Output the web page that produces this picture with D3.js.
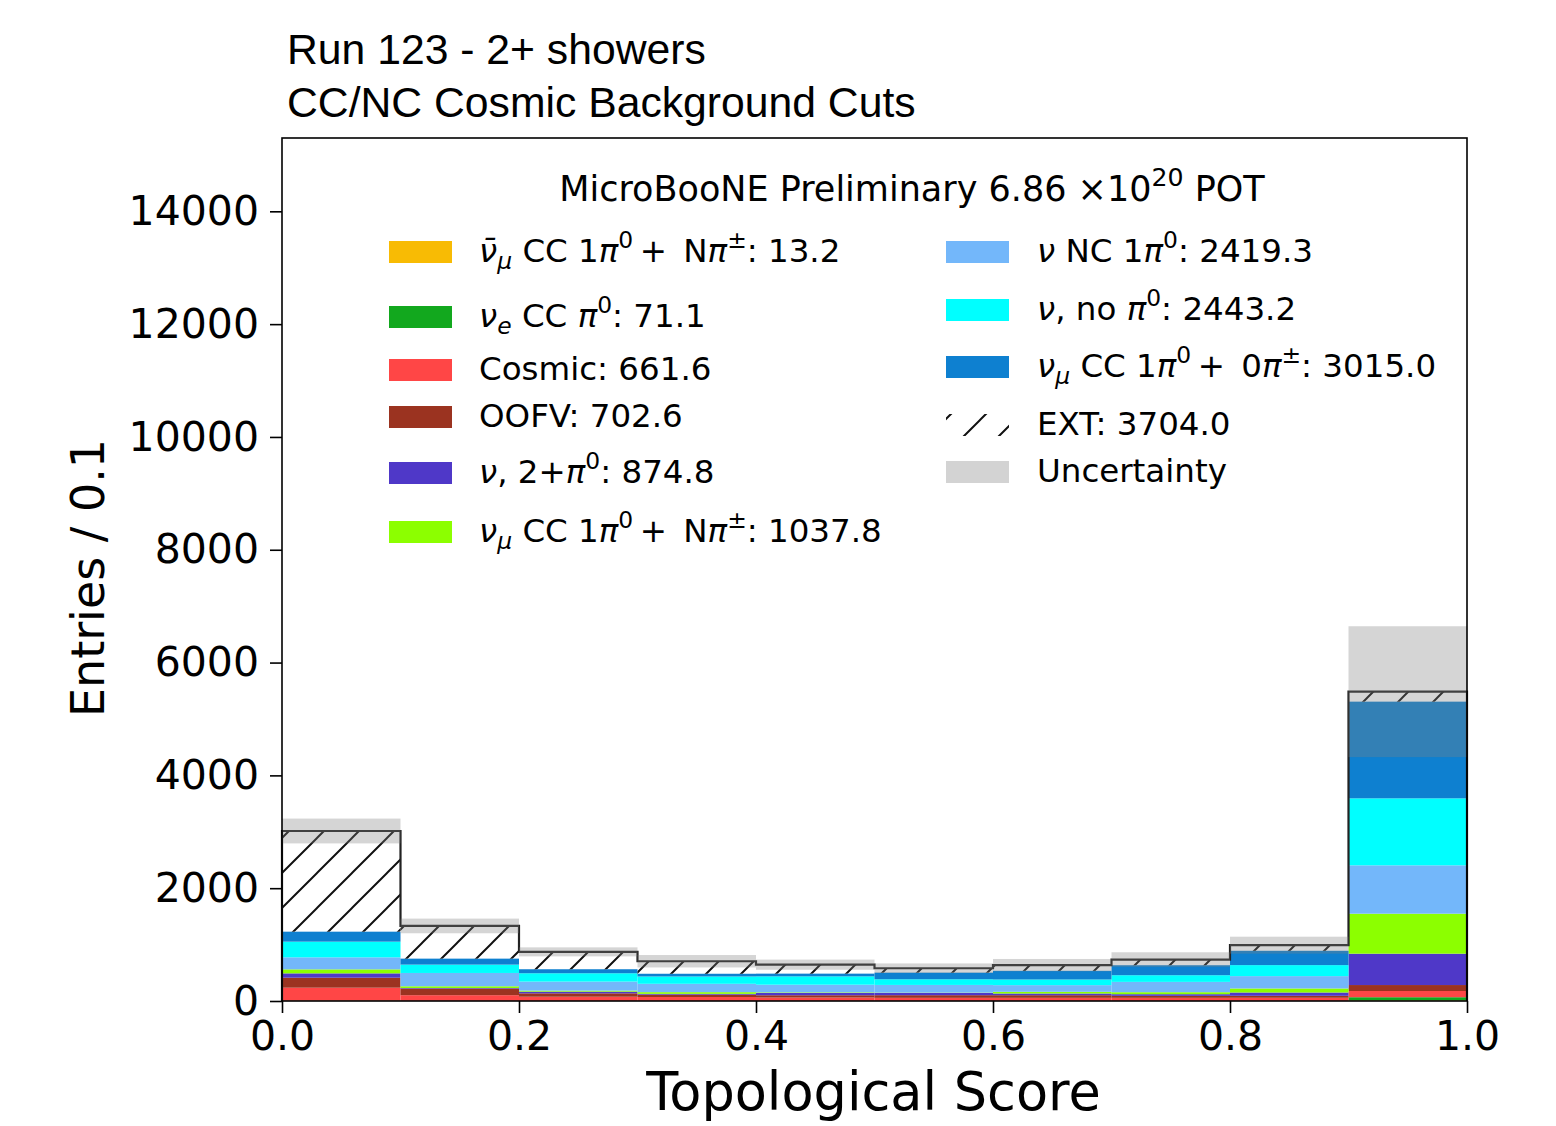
<!DOCTYPE html>
<html>
<head>
<meta charset="utf-8">
<script src="https://cdnjs.cloudflare.com/ajax/libs/d3/7.8.5/d3.min.js"></script>
<style>
    body { margin: 0; background: #fff; }
    text { font-family: "DejaVu Sans", sans-serif; fill: #000; }
</style>
</head>
<body>
<svg id="chart" width="1556" height="1126"></svg>
<script>
// bin edges of the topological score histogram
const binEdges = [0.0, 0.1, 0.2, 0.3, 0.4, 0.5, 0.6, 0.7, 0.8, 0.9, 1.0];

// stacked MC categories, bottom to top, one value per bin
const numubarCC = [1, 1, 0, 0, 0, 0, 0, 0, 1, 10];
const nueCC     = [5, 2, 1, 1, 1, 1, 1, 1, 1, 57];
const cosmic    = [230, 100, 75, 70, 60, 55, 55, 55, 55, 110];
const oofv      = [177, 118, 60, 41, 41, 47, 47, 35, 35, 106];
const nu2pi0    = [77, 10, 30, 15, 41, 41, 30, 30, 59, 556];
const numuNpi   = [71, 30, 18, 30, 10, 5, 30, 35, 71, 709];
const ncPi0     = [213, 236, 160, 148, 136, 136, 118, 183, 219, 857];
const noPi0     = [278, 148, 148, 130, 148, 100, 100, 118, 195, 1188];
const numu0pi   = [177, 106, 71, 48, 48, 118, 154, 177, 254, 1714];

// beam-off (hatched) on top of the stack, and the uncertainty half-width
const ext         = [1785, 580, 308, 222, 159, 78, 100, 100, 100, 177];
const uncertainty = [220, 130, 80, 110, 90, 85, 110, 130, 150, 1160];

const yTicks = [0, 2000, 4000, 6000, 8000, 10000, 12000, 14000];
const xTicks = [0.0, 0.2, 0.4, 0.6, 0.8, 1.0];

const titleLines = ['Run 123 - 2+ showers', 'CC/NC Cosmic Background Cuts'];

// legend labels: [text, kind]  kind: '' upright, 'i' italic, 'isub' italic subscript, 'sup' superscript
const labelNumubar = [['ν\u0304', 'i'], ['μ', 'isub'], [' CC 1', ''], ['π', 'i'], ['0', 'sup'], ['\u2009+\u2002N', ''], ['π', 'i'], ['±', 'sup'], [': 13.2', '']];
const labelNue     = [['ν', 'i'], ['e', 'isub'], [' CC ', ''], ['π', 'i'], ['0', 'sup'], [': 71.1', '']];
const labelCosmic  = [['Cosmic: 661.6', '']];
const labelOofv    = [['OOFV: 702.6', '']];
const label2pi0    = [['ν', 'i'], [', 2+', ''], ['π', 'i'], ['0', 'sup'], [': 874.8', '']];
const labelNpi     = [['ν', 'i'], ['μ', 'isub'], [' CC 1', ''], ['π', 'i'], ['0', 'sup'], ['\u2009+\u2002N', ''], ['π', 'i'], ['±', 'sup'], [': 1037.8', '']];
const labelNc      = [['ν', 'i'], [' NC 1', ''], ['π', 'i'], ['0', 'sup'], [': 2419.3', '']];
const labelNoPi0   = [['ν', 'i'], [', no ', ''], ['π', 'i'], ['0', 'sup'], [': 2443.2', '']];
const label0pi     = [['ν', 'i'], ['μ', 'isub'], [' CC 1', ''], ['π', 'i'], ['0', 'sup'], ['\u2009+\u20020', ''], ['π', 'i'], ['±', 'sup'], [': 3015.0', '']];
const labelExt     = [['EXT: 3704.0', '']];
const labelUnc     = [['Uncertainty', '']];

const keys = ['numubarCC', 'nueCC', 'cosmic', 'oofv', 'nu2pi0', 'numuNpi', 'ncPi0', 'noPi0', 'numu0pi'];
const colours = ['#f8bb04', '#12a81e', '#ff4646', '#9b3320', '#4f38c8', '#8cff00', '#73b7fa', '#00ffff', '#0e80d0'];
const series = [numubarCC, nueCC, cosmic, oofv, nu2pi0, numuNpi, ncPi0, noPi0, numu0pi];

// viewport
const margin = {top: 138, right: 89, bottom: 125, left: 282},
    width = 1556 - margin.left - margin.right,
    height = 1126 - margin.top - margin.bottom;

const svg = d3.select('#chart');

const x = d3.scaleLinear().domain([0, 1]).range([0, width]);
const y = d3.scaleLinear().domain([0, 15300]).range([height, 0]);

// hatch pattern for EXT
const defs = svg.append('defs');
const hatch = defs.append('pattern')
    .attr('id', 'hatch')
    .attr('patternUnits', 'userSpaceOnUse')
    .attr('width', 35)
    .attr('height', 35);
hatch.append('path')
    .attr('d', 'M0,35 L35,0 M-5,5 L5,-5 M30,40 L40,30')
    .attr('stroke', '#111')
    .attr('stroke-width', 2);

const g = svg.append('g')
    .attr('transform', 'translate(' + margin.left + ',' + margin.top + ')');

// build table for the stack
const rows = binEdges.slice(0, -1).map(function (lo, i) {
    const r = {lo: lo, hi: binEdges[i + 1]};
    keys.forEach(function (k, j) { r[k] = series[j][i]; });
    return r;
});
const stacked = d3.stack().keys(keys)(rows);

g.selectAll('.layer')
    .data(stacked)
    .enter().append('g')
    .attr('class', 'layer')
    .attr('fill', function (d, i) { return colours[i]; })
    .selectAll('rect')
    .data(function (d) { return d; })
    .enter().append('rect')
    .attr('x', function (d) { return x(d.data.lo); })
    .attr('width', function (d) { return x(d.data.hi) - x(d.data.lo); })
    .attr('y', function (d) { return y(d[1]); })
    .attr('height', function (d) { return y(d[0]) - y(d[1]); });

const mcTotal = rows.map(function (r) { return d3.sum(keys, function (k) { return r[k]; }); });
const total = mcTotal.map(function (v, i) { return v + ext[i]; });

// EXT hatched bars
g.selectAll('.ext')
    .data(rows)
    .enter().append('rect')
    .attr('class', 'ext')
    .attr('x', function (d) { return x(d.lo); })
    .attr('width', function (d) { return x(d.hi) - x(d.lo); })
    .attr('y', function (d, i) { return y(total[i]); })
    .attr('height', function (d, i) { return y(mcTotal[i]) - y(total[i]); })
    .attr('fill', 'url(#hatch)');

// step outline of the total
let step = 'M' + x(0) + ',' + y(0);
rows.forEach(function (r, i) {
    step += 'V' + y(total[i]) + 'H' + x(r.hi);
});
step += 'V' + y(0);
g.append('path')
    .attr('d', step)
    .attr('fill', 'none')
    .attr('stroke', '#222')
    .attr('stroke-width', 2.2);

// uncertainty band
g.selectAll('.unc')
    .data(rows)
    .enter().append('rect')
    .attr('class', 'unc')
    .attr('x', function (d) { return x(d.lo); })
    .attr('width', function (d) { return x(d.hi) - x(d.lo); })
    .attr('y', function (d, i) { return y(total[i] + uncertainty[i]); })
    .attr('height', function (d, i) { return y(total[i] - uncertainty[i]) - y(total[i] + uncertainty[i]); })
    .attr('fill', '#7f7f7f')
    .attr('fill-opacity', 0.33);

// axes
const yAxis = g.append('g')
    .attr('class', 'yaxis')
    .call(d3.axisLeft(y).tickValues(yTicks).tickSize(12).tickPadding(11).tickFormat(d3.format('d')));
const xAxis = g.append('g')
    .attr('class', 'xaxis')
    .attr('transform', 'translate(0,' + height + ')')
    .call(d3.axisBottom(x).tickValues(xTicks).tickSize(12).tickPadding(8).tickFormat(d3.format('.1f')));
[yAxis, xAxis].forEach(function (a) {
    a.select('.domain').remove();
    a.selectAll('line').attr('stroke', '#000').attr('stroke-width', 1.6);
    a.selectAll('text').attr('font-family', 'DejaVu Sans').attr('font-size', '41px').attr('fill', '#000');
});

// frame
g.append('rect')
    .attr('width', width)
    .attr('height', height)
    .attr('fill', 'none')
    .attr('stroke', '#000')
    .attr('stroke-width', 1.6);

// labels
g.append('text')
    .attr('x', width / 2 - 1)
    .attr('y', height + 109)
    .attr('text-anchor', 'middle')
    .attr('font-size', '52.5px')
    .text('Topological Score');

svg.append('text')
    .attr('transform', 'translate(104,578) rotate(-90)')
    .attr('text-anchor', 'middle')
    .attr('font-size', '46px')
    .text('Entries / 0.1');

// title
svg.selectAll('.title')
    .data(titleLines)
    .enter().append('text')
    .attr('class', 'title')
    .attr('x', 287)
    .attr('y', function (d, i) { return 64 + i * 53; })
    .style('font-family', '"Liberation Sans", Arial, sans-serif')
    .attr('font-size', '42.7px')
    .text(function (d) { return d; });

// rich text helper for math-like labels
function rich(sel, parts, fs) {
    let shift = 0;
    parts.forEach(function (p) {
        const kind = p[1];
        let target = 0, size = fs;
        if (kind === 'isub') { target = 0.2 * fs; size = 0.72 * fs; }
        if (kind === 'sup') { target = -0.42 * fs; size = 0.72 * fs; }
        const ts = sel.append('tspan')
            .attr('dy', target - shift)
            .attr('font-size', size + 'px')
            .text(p[0]);
        if (kind === 'i' || kind === 'isub') ts.attr('font-style', 'italic');
        shift = target;
    });
}

// legend header
const header = svg.append('text')
    .attr('x', 912)
    .attr('y', 201)
    .attr('text-anchor', 'middle')
    .attr('font-size', '35px');
rich(header, [['MicroBooNE Preliminary 6.86 ×10', ''], ['20', 'sup'], [' POT', '']], 35);

// legend entries
const legendLeft = [
    {label: labelNumubar, fill: colours[0], base: 262},
    {label: labelNue, fill: colours[1], base: 327},
    {label: labelCosmic, fill: colours[2], base: 380},
    {label: labelOofv, fill: colours[3], base: 427},
    {label: label2pi0, fill: colours[4], base: 483},
    {label: labelNpi, fill: colours[5], base: 542}
];
const legendRight = [
    {label: labelNc, fill: colours[6], base: 262},
    {label: labelNoPi0, fill: colours[7], base: 320},
    {label: label0pi, fill: colours[8], base: 377},
    {label: labelExt, fill: 'url(#hatch)', base: 435},
    {label: labelUnc, fill: '#d3d3d3', base: 482}
];

function drawLegend(items, px, tx) {
    items.forEach(function (d) {
        svg.append('rect')
            .attr('x', px)
            .attr('y', d.base - 21)
            .attr('width', 63)
            .attr('height', 22)
            .attr('fill', d.fill);
        const t = svg.append('text')
            .attr('x', tx)
            .attr('y', d.base)
            .attr('font-size', '32.5px');
        rich(t, d.label, 32.5);
    });
}
drawLegend(legendLeft, 389, 479);
drawLegend(legendRight, 946, 1037);
</script>
</body>
</html>
